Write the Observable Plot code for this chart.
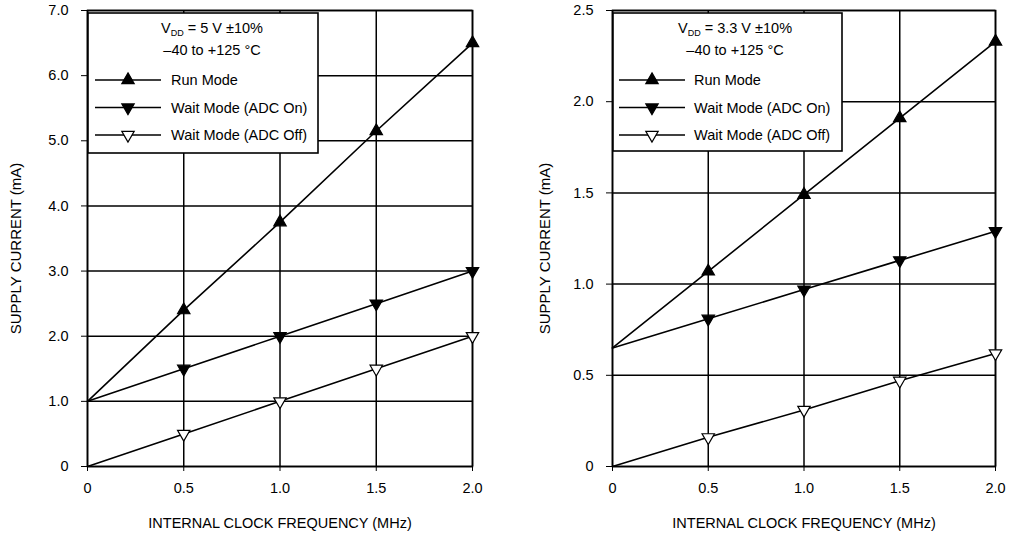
<!DOCTYPE html>
<html><head><meta charset="utf-8">
<script src="https://cdn.jsdelivr.net/npm/d3@7"></script>
<script src="https://cdn.jsdelivr.net/npm/@observablehq/plot@0.6"></script>
<style>
body{margin:0;background:#fff;font-family:"Liberation Sans",Arial,sans-serif;}
#wrap{display:flex;width:1012px;height:536px;}
.panel{position:relative;}
.legend{position:absolute;}
</style></head><body><div id="wrap"></div>
<script>
// ---- data ----
const freq = [0, 0.5, 1.0, 1.5, 2.0];
const xTicks = [0, 0.5, 1, 1.5, 2];
const xTickLabels = ["0", "0.5", "1.0", "1.5", "2.0"];
const seriesNames = ["Run Mode", "Wait Mode (ADC On)", "Wait Mode (ADC Off)"];
const xLabel = "INTERNAL CLOCK FREQUENCY (MHz)";
const yLabel = "SUPPLY CURRENT (mA)";

// 5 V panel
const run5 = [1.0, 2.4, 3.75, 5.15, 6.5];
const waitOn5 = [1.0, 1.5, 2.0, 2.5, 3.0];
const waitOff5 = [0, 0.5, 1.0, 1.5, 2.0];
const yTicks5 = [0, 1, 2, 3, 4, 5, 6, 7];
const yTickLabels5 = ["0", "1.0", "2.0", "3.0", "4.0", "5.0", "6.0", "7.0"];
const title5 = [" = 5 V \u00B110%", "\u201340 to +125 \u00B0C"];

// 3.3 V panel
const run33 = [0.65, 1.07, 1.49, 1.91, 2.33];
const waitOn33 = [0.65, 0.81, 0.97, 1.13, 1.29];
const waitOff33 = [0, 0.16, 0.31, 0.47, 0.62];
const yTicks33 = [0, 0.5, 1, 1.5, 2, 2.5];
const yTickLabels33 = ["0", "0.5", "1.0", "1.5", "2.0", "2.5"];
const title33 = [" = 3.3 V \u00B110%", "\u201340 to +125 \u00B0C"];

const FONT = "'Liberation Sans', Arial, sans-serif";
const markerStyle = [
  {rotate: 0, fill: "#000"},
  {rotate: 180, fill: "#000"},
  {rotate: 180, fill: "#fff"}
];

function panel(cfg) {
  const rows = [];
  cfg.series.forEach((vals, i) => vals.forEach((v, j) => rows.push({s: seriesNames[i], i, f: freq[j], v})));
  const grid = {stroke: "#000", strokeOpacity: 1, strokeWidth: 1.5};
  const dots = markerStyle.map((m, i) => Plot.dot(rows.filter(d => d.i === i && d.f > 0), {
    x: "f", y: "v", symbol: "triangle", r: 4.6, rotate: m.rotate, fill: m.fill, stroke: "#000", strokeWidth: 1.2
  }));
  const plot = Plot.plot({
    width: cfg.width, height: 536,
    marginTop: 10, marginBottom: 70, marginLeft: cfg.ml, marginRight: cfg.mr,
    style: {fontFamily: FONT, fontSize: "14.5px", color: "#000", background: "#fff", overflow: "visible"},
    x: {domain: [0, 2], ticks: xTicks, tickFormat: d => xTickLabels[xTicks.indexOf(d)],
        label: xLabel, labelAnchor: "center", labelArrow: "none", labelOffset: 61, tickSize: 5, tickPadding: 11},
    y: {domain: cfg.ydomain, ticks: cfg.yTicks, tickFormat: d => cfg.yTickLabels[cfg.yTicks.indexOf(d)],
        label: yLabel, labelAnchor: "center", labelArrow: "none", labelOffset: cfg.lo, tickSize: 6, tickPadding: 13},
    marks: [
      Plot.gridX(xTicks, grid),
      Plot.gridY(cfg.yTicks, grid),
      Plot.frame({stroke: "#000", strokeWidth: 1.6}),
      Plot.line(rows, {x: "f", y: "v", z: "s", stroke: "#000", strokeWidth: 1.6}),
      ...dots
    ]
  });
  d3.select(plot).selectAll("[aria-label='x-axis label']").attr("font-size", "14.5px");
  d3.select(plot).selectAll("[aria-label='y-axis label']").attr("font-size", "15px")
    .attr("transform", function() { return "translate(0,10) " + (this.getAttribute("transform") || ""); });
  const div = document.createElement("div");
  div.className = "panel";
  div.style.width = cfg.width + "px";
  div.appendChild(plot);

  // legend box inside the plot area
  const L = cfg.legend;
  const lg = d3.create("svg").attr("class", "legend").attr("width", L.w + 2).attr("height", L.h + 2)
    .style("left", (L.x - 1) + "px").style("top", (L.y - 1) + "px")
    .style("font-family", FONT).style("font-size", "14.5px");
  lg.append("rect").attr("x", 1).attr("y", 1).attr("width", L.w).attr("height", L.h)
    .attr("fill", "#fff").attr("stroke", "#000").attr("stroke-width", 1.6);
  const t1 = lg.append("text").attr("x", L.tc).attr("y", 21).attr("text-anchor", "middle");
  t1.append("tspan").text("V");
  t1.append("tspan").attr("font-size", "9px").attr("dy", 3).text("DD");
  t1.append("tspan").attr("dy", -3).text(cfg.title[0]);
  lg.append("text").attr("x", L.tc).attr("y", 43).attr("text-anchor", "middle").text(cfg.title[1]);
  const sym = d3.symbol(d3.symbolTriangle, Math.PI * 4.6 * 4.6)();
  seriesNames.forEach((name, i) => {
    const cy = 68 + i * 27.5;
    lg.append("line").attr("x1", L.lx0).attr("x2", L.lx1).attr("y1", cy).attr("y2", cy)
      .attr("stroke", "#000").attr("stroke-width", 1.5);
    lg.append("path").attr("d", sym)
      .attr("transform", `translate(${(L.lx0 + L.lx1) / 2},${cy}) rotate(${markerStyle[i].rotate})`)
      .attr("fill", markerStyle[i].fill).attr("stroke", "#000").attr("stroke-width", 1.2);
    lg.append("text").attr("x", L.tx).attr("y", cy).attr("dy", "0.35em").text(name);
  });
  div.appendChild(lg.node());
  return div;
}

const wrap = document.getElementById("wrap");
wrap.appendChild(panel({
  width: 506, ml: 87, mr: 34, lo: 77,
  series: [run5, waitOn5, waitOff5], ydomain: [0, 7], yTicks: yTicks5, yTickLabels: yTickLabels5,
  title: title5,
  legend: {x: 88, y: 13, w: 230, h: 140, tc: 125, lx0: 8, lx1: 74, tx: 84}
}));
wrap.appendChild(panel({
  width: 506, ml: 106, mr: 17, lo: 73,
  series: [run33, waitOn33, waitOff33], ydomain: [0, 2.5], yTicks: yTicks33, yTickLabels: yTickLabels33,
  title: title33,
  legend: {x: 107, y: 13, w: 229, h: 138, tc: 123, lx0: 7, lx1: 73, tx: 82}
}));
</script>
</body></html>
